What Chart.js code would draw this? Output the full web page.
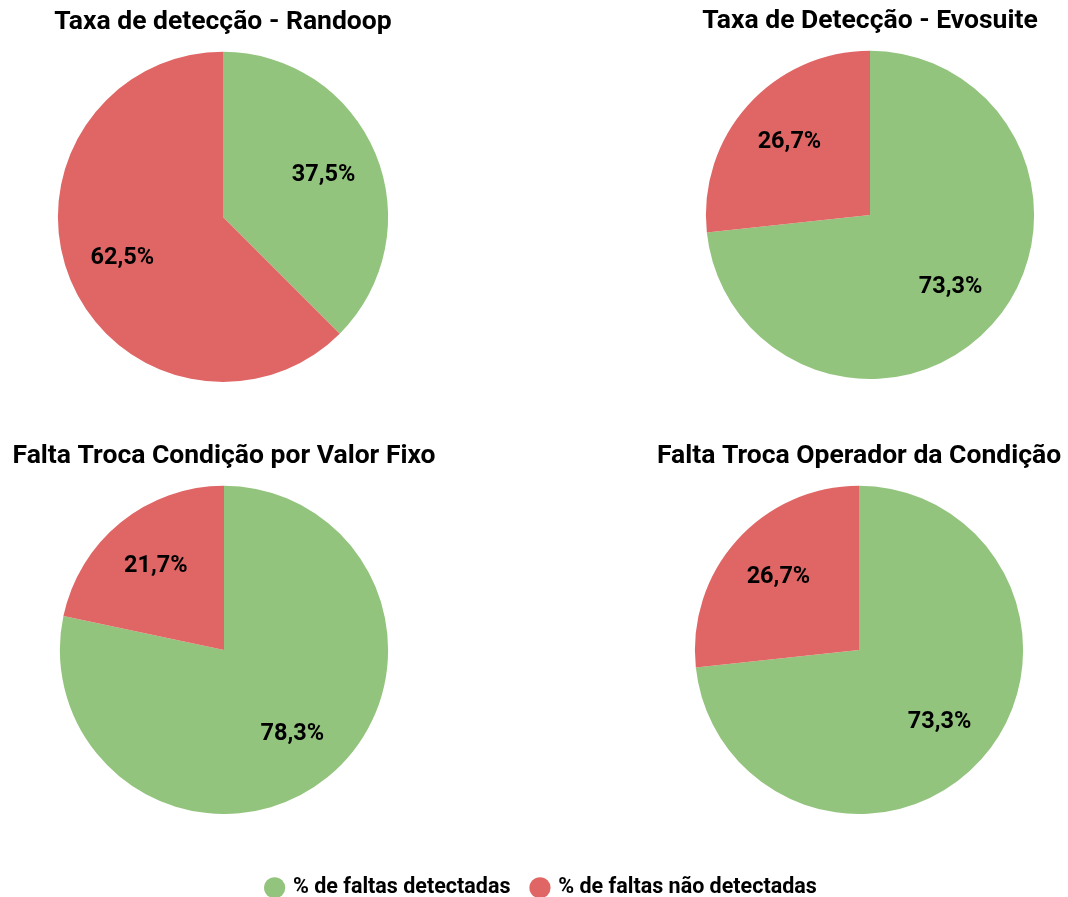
<!DOCTYPE html>
<html>
<head>
<meta charset="utf-8">
<script src="https://cdn.jsdelivr.net/npm/chart.js@4"></script>
<style>
  html, body { margin: 0; padding: 0; background: #fff; overflow: hidden; }
  body { width: 1068px; height: 897px; position: relative; }
  .box { position: absolute; }
</style>
</head>
<body>
<div class="box" style="left:0px;top:0px"><canvas id="c1" width="446" height="382"></canvas></div>
<div class="box" style="left:690px;top:-1px"><canvas id="c2" width="360" height="380"></canvas></div>
<div class="box" style="left:4px;top:434px"><canvas id="c3" width="440" height="380"></canvas></div>
<div class="box" style="left:639px;top:434px"><canvas id="c4" width="440" height="380"></canvas></div>
<div class="box" style="left:192px;top:855px"><canvas id="leg" width="700" height="200"></canvas></div>
<script>
const labels = ['% de faltas detectadas', '% de faltas não detectadas'];
const colors = ['#93c47d', '#e06666'];

const titles = [
    'Taxa de detecção - Randoop',
    'Taxa de Detecção - Evosuite',
    'Falta Troca Condição por Valor Fixo',
    'Falta Troca Operador da Condição'
];
const randoop = [37.5, 62.5];
const evosuite = [73.3, 26.7];
const valorFixo = [78.3, 21.7];
const operador = [73.3, 26.7];

Chart.defaults.font.family = 'Roboto';
Chart.defaults.color = '#000';

// draws the percent labels inside each slice
const sliceLabels = {
    id: 'sliceLabels',
    afterDatasetsDraw(chart) {
        const ctx = chart.ctx;
        const meta = chart.getDatasetMeta(0);
        const vals = chart.data.datasets[0].data;
        ctx.save();
        ctx.font = 'bold 23.5px Roboto';
        ctx.fillStyle = '#000';
        ctx.textAlign = 'center';
        ctx.textBaseline = 'middle';
        meta.data.forEach((arc, i) => {
            const mid = (arc.startAngle + arc.endAngle) / 2;
            const r = arc.outerRadius * 0.66;
            const x = arc.x + Math.cos(mid) * r;
            const y = arc.y + Math.sin(mid) * r;
            ctx.fillText(vals[i].toFixed(1).replace('.', ',') + '%', x, y);
        });
        ctx.restore();
    }
};

const makePie = (id, title, data) => {
    const ctx = document.getElementById(id).getContext('2d');
    return new Chart(ctx, {
        type: 'pie',
        data: {
            labels: labels,
            datasets: [{
                data: data,
                backgroundColor: colors,
                borderWidth: 0
            }]
        },
        options: {
            responsive: false,
            animation: false,
            layout: { padding: 0 },
            plugins: {
                legend: { display: false },
                tooltip: { enabled: false },
                title: {
                    display: true,
                    text: title,
                    font: { size: 26.5, weight: 'bold' },
                    padding: { top: 6, bottom: 14 }
                }
            }
        },
        plugins: [sliceLabels]
    });
};

makePie('c1', titles[0], randoop);
makePie('c2', titles[1], evosuite);
makePie('c3', titles[2], valorFixo);
makePie('c4', titles[3], operador);

// shared legend: an empty pie that only shows its legend
new Chart(document.getElementById('leg').getContext('2d'), {
    type: 'pie',
    data: {
        labels: labels,
        datasets: [{ data: [0, 0], backgroundColor: colors, borderWidth: 0 }]
    },
    options: {
        responsive: false,
        animation: false,
        plugins: {
            tooltip: { enabled: false },
            legend: {
                position: 'top',
                labels: {
                    usePointStyle: true,
                    pointStyle: 'circle',
                    boxWidth: 15,
                    boxHeight: 15,
                    padding: 22,
                    font: { size: 21.5, weight: 'bold' }
                }
            }
        }
    }
});
</script>
</body>
</html>
